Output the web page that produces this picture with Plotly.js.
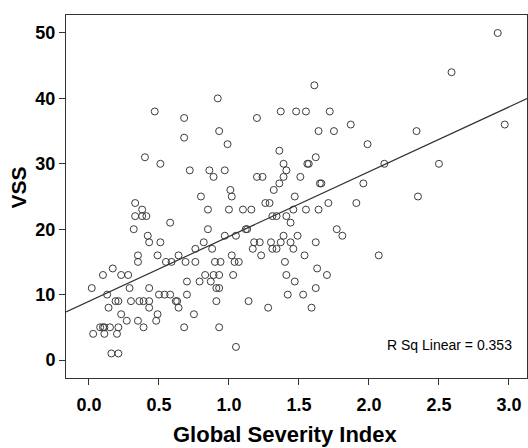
<!DOCTYPE html>
<html>
<head>
<meta charset="utf-8">
<script src="https://cdn.plot.ly/plotly-3.0.1.min.js"></script>
<style>html,body{margin:0;padding:0;background:#fff;}#chart{width:528px;height:448px;}</style>
</head>
<body>
<div id="chart"></div>
<script>
// Global Severity Index (x) vs VSS (y)
const gsi = [
0.47,0.92,0.68,1.20,1.37,1.48,0.68,0.93,1.61,1.55,1.72,1.64,1.75,1.87,2.92,2.59,2.97,2.34,
0.40,0.51,0.33,0.38,0.33,0.38,0.41,0.58,0.32,0.42,0.43,0.51,0.35,0.35,0.49,0.55,0.59,0.64,
0.99,1.36,1.39,1.41,1.39,0.72,0.86,0.89,0.97,1.20,1.24,1.36,1.32,1.01,1.02,0.80,1.47,1.26,1.29,
0.85,1.00,1.10,1.16,1.46,1.31,1.34,1.41,1.44,0.85,1.12,1.13,0.97,1.05,0.82,1.18,1.22,1.30,1.37,
1.39,1.44,0.76,0.88,1.17,1.31,1.34,1.46,1.23,1.02,0.69,0.76,0.90,0.94,1.04,1.07,1.40,
1.99,1.62,1.56,1.57,1.51,1.65,1.66,1.96,2.11,1.71,1.91,1.55,1.64,1.77,1.81,1.49,1.62,1.54,2.07,
2.50,2.35,
0.17,0.10,0.23,0.28,0.02,0.29,0.43,0.13,0.50,0.54,0.58,0.62,0.63,0.64,0.19,0.21,0.30,0.36,0.39,0.43,
0.14,0.43,0.23,0.49,0.27,0.35,0.48,0.39,0.08,0.10,0.11,0.15,0.21,0.03,0.11,0.20,0.16,0.21,
0.83,0.89,0.93,1.03,1.41,0.70,0.79,0.87,1.47,0.91,0.93,0.70,1.42,0.91,1.14,1.28,0.75,0.68,0.93,1.05,
1.63,1.70,1.62,1.53,1.59
];
const vss = [
38,40,37,37,38,38,34,35,42,38,38,35,35,36,50,44,36,35,
31,30,24,23,22,22,22,21,20,19,18,18,16,15,16,15,15,16,
33,32,30,29,28,29,29,28,29,28,28,27,26,26,25,25,25,24,24,
23,23,23,23,23,22,22,22,21,20,20,20,19,19,18,18,18,18,18,
19,18,17,17,17,17,17,17,16,16,15,15,15,15,15,15,15,
33,31,30,30,28,27,27,27,30,24,24,23,23,20,19,19,18,16,16,
30,25,
14,13,13,13,11,11,11,10,10,10,10,9,9,8,9,9,9,9,9,9,
8,8,7,7,6,6,6,5,5,5,5,5,5,4,4,4,1,1,
13,13,13,13,13,12,12,12,12,11,11,10,10,9,9,8,7,5,5,2,
14,13,11,10,8
];
const xTicks = [0.0,0.5,1.0,1.5,2.0,2.5,3.0];
const xTickLabels = ["0.0","0.5","1.0","1.5","2.0","2.5","3.0"];
const yTicks = [0,10,20,30,40,50];
const xTitle = "Global Severity Index";
const yTitle = "VSS";
const rSqText = "R Sq Linear = 0.353";

// least-squares fit line
const n = gsi.length;
const mx = gsi.reduce((a,b)=>a+b,0)/n;
const my = vss.reduce((a,b)=>a+b,0)/n;
let sxy=0,sxx=0;
for(let i=0;i<n;i++){sxy+=(gsi[i]-mx)*(vss[i]-my);sxx+=(gsi[i]-mx)**2;}
const slope = sxy/sxx, icpt = my - slope*mx;
const xr = [-0.164, 3.129];
const fitX = xr;
const fitY = xr.map(v=>icpt+slope*v);

const font = "Arial, 'Liberation Sans', sans-serif";
const traces = [
 {x: gsi, y: vss, type:'scatter', mode:'markers',
  marker:{symbol:'circle-open', size:7, color:'#3c3c3c', line:{width:1, color:'#3c3c3c'}},
  hoverinfo:'skip', showlegend:false, cliponaxis:true},
 {x: fitX, y: fitY, type:'scatter', mode:'lines', line:{color:'#333', width:1.2},
  hoverinfo:'skip', showlegend:false}
];
const layout = {
 width:528, height:448,
 margin:{l:66, r:1, t:15, b:70},
 paper_bgcolor:'#fff', plot_bgcolor:'#fff',
 showlegend:false,
 xaxis:{range:xr, tickvals:xTicks, ticktext:xTickLabels, ticks:'outside', ticklen:6, tickcolor:'#333',
   showline:true, linecolor:'#333', linewidth:1, mirror:true, showgrid:false, zeroline:false,
   tickfont:{family:font, size:18, color:'#000', weight:'bold'}, ticklabelstandoff:4},
 yaxis:{range:[-2.75,52.75], tickvals:yTicks, ticks:'outside', ticklen:6, tickcolor:'#333',
   showline:true, linecolor:'#333', linewidth:1, mirror:true, showgrid:false, zeroline:false,
   tickfont:{family:font, size:18, color:'#000', weight:'bold'}},
 annotations:[
  {xref:'paper', yref:'paper', x:0.832, y:0.091, xanchor:'center', yanchor:'middle',
   text:rSqText, showarrow:false, font:{family:font, size:14, color:'#000'}},
  {xref:'paper', yref:'paper', x:0.477, y:-0.156, xanchor:'center', yanchor:'middle',
   text:'<b>'+xTitle+'</b>', showarrow:false, font:{family:font, size:22, color:'#000'}},
  {xref:'paper', yref:'paper', x:-0.104, y:0.525, xanchor:'center', yanchor:'middle', textangle:-90,
   text:'<b>'+yTitle+'</b>', showarrow:false, font:{family:font, size:21, color:'#000'}}
 ]
};
Plotly.newPlot('chart', traces, layout, {staticPlot:true, displayModeBar:false});
</script>
</body>
</html>
